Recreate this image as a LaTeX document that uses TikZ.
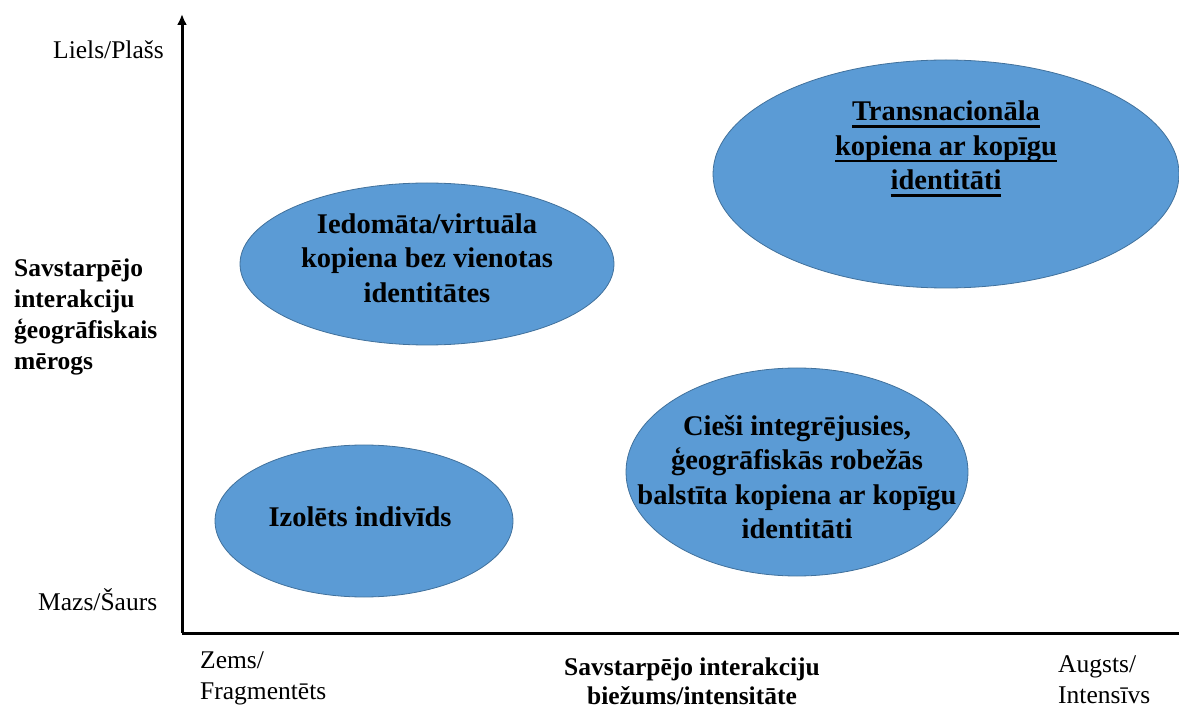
\documentclass[tikz,border=0pt]{standalone}
\usepackage{fontspec}
\setmainfont{Liberation Serif}
\usetikzlibrary{shapes.geometric,arrows.meta}
\definecolor{blobfill}{RGB}{91,155,213}
\definecolor{blobedge}{RGB}{65,113,156}
\newcommand\thickul[1]{\leavevmode\setbox0=\hbox{#1}\rlap{\rule[-7pt]{\wd0}{2.4pt}}\box0}
\tikzset{
  blob/.style={ellipse, fill=blobfill, draw=blobedge, line width=0.8pt, inner sep=0pt},
  blobtext/.style={align=center, inner sep=0pt, font=\fontsize{28.5}{34.5}\selectfont\bfseries},
  axislabel/.style={align=left, inner sep=0pt, font=\fontsize{25.5}{31}\selectfont},
  axistitle/.style={align=center, inner sep=0pt, font=\fontsize{25.5}{29}\selectfont\bfseries},
  axisline/.style={line width=3pt}
}
\begin{document}
\begin{tikzpicture}[x=1pt,y=-1pt]
\useasboundingbox (0,0) rectangle (1179,711);
% axes
\coordinate (origin) at (182,633);
\coordinate (ytop) at (182,14);
\coordinate (xend) at (1179,633);
\draw[axisline, -{Latex[length=11pt,width=10pt]}] (origin) -- (ytop);
\draw[axisline] (origin) -- (xend);
% ellipses
\node[blob, minimum width=466pt, minimum height=228pt] (trans) at (946,174) {};
\node[blob, minimum width=374pt, minimum height=162pt] (virt) at (427,264) {};
\node[blob, minimum width=298pt, minimum height=152pt] (izol) at (364,521) {};
\node[blob, minimum width=342pt, minimum height=208pt] (ciesi) at (797,472) {};
% ellipse texts
\node[blobtext] (transtxt) at (946,149) {\thickul{Transnacionāla}\\\thickul{kopiena ar kopīgu}\\\thickul{identitāti}};
\node[blobtext] (virttxt) at (427,258) {Iedomāta/virtuāla\\kopiena bez vienotas\\identitātes};
\node[blobtext] (izoltxt) at (360,517) {Izolēts indivīds};
\node[blobtext] (ciesitxt) at (797,477) {Cieši integrējusies,\\ģeogrāfiskās robežās\\balstīta kopiena ar kopīgu\\identitāti};
% axis labels
\node[axislabel, anchor=west] (liels) at (53,50) {Liels/Plašs};
\node[axislabel, anchor=west] (mazs) at (38,600) {Mazs/Šaurs};
\node[axislabel, anchor=west, font=\fontsize{25.5}{31}\selectfont\bfseries] (ytitle) at (14,317) {Savstarpējo\\interakciju\\ģeogrāfiskais\\mērogs};
\node[axislabel, anchor=west] (zems) at (200,678) {Zems/\\Fragmentēts};
\node[axislabel, anchor=west] (augsts) at (1058,680) {Augsts/\\Intensīvs};
\node[axistitle] (xtitle) at (692,681) {Savstarpējo interakciju\\biežums/intensitāte};
\end{tikzpicture}
\end{document}
